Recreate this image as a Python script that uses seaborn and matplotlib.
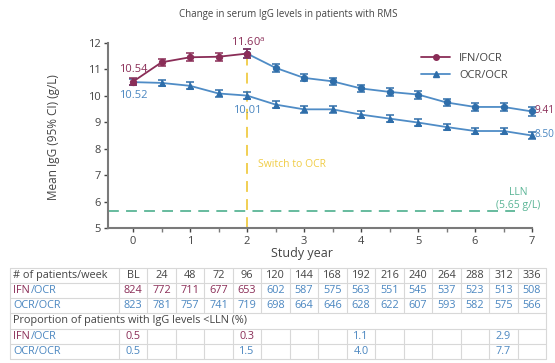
import numpy as np
import pandas as pd
import seaborn as sns
import matplotlib.pyplot as plt
import matplotlib.transforms as mtransforms
from matplotlib.lines import Line2D

# --- data -------------------------------------------------------------
weeks = [0, 24, 48, 72, 96, 120, 144, 168, 192, 216, 240, 264, 288, 312, 336]
ifn_ocr_mean = [10.54, 11.27, 11.46, 11.48, 11.60, 11.06, 10.68, 10.55,
                10.28, 10.15, 10.05, 9.75, 9.58, 9.58, 9.41]
ocr_ocr_mean = [10.52, 10.49, 10.38, 10.09, 10.01, 9.67, 9.49, 9.49,
                9.29, 9.14, 8.99, 8.82, 8.67, 8.67, 8.50]
ifn_ocr_ci = [0.12, 0.14, 0.15, 0.15, 0.16, 0.14, 0.13, 0.14,
              0.14, 0.14, 0.15, 0.15, 0.15, 0.15, 0.16]
ocr_ocr_ci = [0.12, 0.12, 0.13, 0.13, 0.13, 0.12, 0.12, 0.12,
              0.12, 0.13, 0.13, 0.13, 0.13, 0.13, 0.14]
switch_week = 96
lln = 5.65

table_cols = ["BL", "24", "48", "72", "96", "120", "144", "168", "192",
              "216", "240", "264", "288", "312", "336"]
n_ifn_ocr = [824, 772, 711, 677, 653, 602, 587, 575, 563, 551, 545, 537, 523, 513, 508]
n_ocr_ocr = [823, 781, 757, 741, 719, 698, 664, 646, 628, 622, 607, 593, 582, 575, 566]
pct_ifn_ocr = ["0.5", "", "", "", "0.3", "", "", "", "1.1", "", "", "", "", "2.9", ""]
pct_ocr_ocr = ["0.5", "", "", "", "1.5", "", "", "", "4.0", "", "", "", "", "7.7", ""]

# --- style ------------------------------------------------------------
sns.set_theme(style="ticks")
plt.rcParams["font.family"] = ["Open Sans", "DejaVu Sans"]
plt.rcParams["mathtext.fontset"] = "custom"
plt.rcParams["mathtext.rm"] = "Open Sans"

MAROON = "#8a2d57"
BLUE = "#2f6eaa"
BLUE_LINE = "#4f8cc6"
BLUE_TXT = "#4a86c0"
YELLOW = "#f0cc45"
GREEN = "#5bb596"
GREY = "#444444"
SPINE = "#7a7a7a"
GRID = "#d8d8d8"

years = np.array(weeks) / 48.0
df = pd.DataFrame({"year": years, "ifn": ifn_ocr_mean, "ocr": ocr_ocr_mean,
                   "ifn_ci": ifn_ocr_ci, "ocr_ci": ocr_ocr_ci})
pre = df[df["year"] <= switch_week / 48.0]
post = df[df["year"] >= switch_week / 48.0]

fig = plt.figure(figsize=(5.55, 3.63), dpi=100)
W, H = 555, 363
ax = fig.add_axes([108 / W, 1 - 228 / H, (532 - 108) / W, (228 - 43) / H])

# reference lines
ax.axhline(lln, xmin=0.0, xmax=0.96, color=GREEN, lw=1.3, ls=(0, (6, 4)), zorder=1)
ax.plot([2, 2], [5, 11.5], color=YELLOW, lw=1.3, ls=(0, (6, 4)), zorder=1)

# OCR/OCR
sns.lineplot(data=df, x="year", y="ocr", ax=ax, color=BLUE_LINE, lw=1.3,
             marker="^", markersize=5, markerfacecolor=BLUE, markeredgecolor=BLUE,
             zorder=3, clip_on=False, label="OCR/OCR", legend=False)
ax.errorbar(df["year"], df["ocr"], yerr=df["ocr_ci"], fmt="none", ecolor=BLUE,
            elinewidth=1.1, capsize=3, capthick=1.1, zorder=3, clip_on=False)

# IFN/OCR: IFN period then OCR period after the switch
sns.lineplot(data=post, x="year", y="ifn", ax=ax, color=BLUE_LINE, lw=1.3,
             marker="o", markersize=4.5, markerfacecolor=BLUE, markeredgecolor=BLUE,
             zorder=3, clip_on=False, legend=False)
ax.errorbar(post["year"], post["ifn"], yerr=post["ifn_ci"], fmt="none", ecolor=BLUE,
            elinewidth=1.1, capsize=3, capthick=1.1, zorder=3, clip_on=False)
sns.lineplot(data=pre, x="year", y="ifn", ax=ax, color=MAROON, lw=1.3,
             marker="o", markersize=4.5, markerfacecolor=MAROON, markeredgecolor=MAROON,
             zorder=4, clip_on=False, legend=False)
ax.errorbar(pre["year"], pre["ifn"], yerr=pre["ifn_ci"], fmt="none", ecolor=MAROON,
            elinewidth=1.1, capsize=3, capthick=1.1, zorder=4, clip_on=False)

ax.set_xlim(-0.44, 7.0)
ax.set_ylim(5, 12)
ax.set_xticks(range(0, 8))
ax.set_xticks(np.arange(0.5, 7, 1.0), minor=True)
ax.set_yticks(range(5, 13))
ax.tick_params(axis="both", labelsize=8, colors=GREY, length=3, width=1, pad=2)
ax.tick_params(axis="x", which="minor", length=3, width=1, color=SPINE)
ax.tick_params(axis="x", which="major", pad=3)
for s in ["left", "bottom"]:
    ax.spines[s].set_color(SPINE)
    ax.spines[s].set_linewidth(1.5)
sns.despine(ax=ax)
ax.set_xlabel("")
ax.set_ylabel("")

# value labels
ax.text(0.25, ifn_ocr_mean[0] + 0.45, f"{ifn_ocr_mean[0]:.2f}", color=MAROON,
        fontsize=8, ha="right", va="center")
ax.text(0.0, ocr_ocr_mean[0] - 0.5, f"{ocr_ocr_mean[0]:.2f}", color=BLUE_TXT,
        fontsize=8, ha="center", va="center")
ax.text(1.72, ifn_ocr_mean[4] + 0.42, f"{ifn_ocr_mean[4]:.2f}$^{{\\mathrm{{a}}}}$",
        color=MAROON, fontsize=8, ha="left", va="center")
ax.text(2.0, ocr_ocr_mean[4] - 0.55, f"{ocr_ocr_mean[4]:.2f}", color=BLUE_TXT,
        fontsize=8, ha="center", va="center")
ax.text(7.05, ifn_ocr_mean[-1] + 0.02, f"{ifn_ocr_mean[-1]:.2f}", color=MAROON,
        fontsize=7.3, ha="left", va="center", clip_on=False)
ax.text(7.05, ocr_ocr_mean[-1] + 0.02, f"{ocr_ocr_mean[-1]:.2f}", color=BLUE_TXT,
        fontsize=7.3, ha="left", va="center", clip_on=False)
ax.text(2.2, 7.4, "Switch to OCR", color=YELLOW, fontsize=7.5, ha="left", va="center")
ax.text(6.75, 6.1, "LLN\n(5.65 g/L)", color=GREEN, fontsize=7.5, ha="center",
        va="center", linespacing=1.2)

# legend
handles = [Line2D([], [], color=MAROON, lw=1.3, marker="o", markersize=4),
           Line2D([], [], color=BLUE_LINE, lw=1.3, marker="^", markersize=4,
                  markerfacecolor=BLUE, markeredgecolor=BLUE)]
ax.legend(handles, ["IFN/OCR", "OCR/OCR"], loc="upper left",
          bbox_to_anchor=(0.715, 1.0), frameon=False, fontsize=8,
          labelcolor=GREY, handlelength=2.6, handletextpad=0.8, labelspacing=0.55)

# titles
fig.text(288 / W, 1 - 14 / H, "Change in serum IgG levels in patients with RMS",
         fontsize=7, color=GREY, ha="center", va="center")
fig.text(302 / W, 1 - 254 / H, "Study year", fontsize=9, color=GREY,
         ha="center", va="center")
fig.text(53 / W, 1 - 137 / H, "Mean IgG (95% CI) (g/L)", fontsize=8.5, color=GREY,
         ha="center", va="center", rotation=90)

# --- table below the axis -------------------------------------------
tr = mtransforms.blended_transform_factory(ax.transData, fig.transFigure)
row_px = [268, 283, 298, 313, 329, 344, 359]
row_y = [1 - p / H for p in row_px]
x_left_px = 10
x_left = ax.transData.inverted().transform(
    fig.transFigure.transform((x_left_px / W, 0)))[0]
x_right = years[-1] + 0.25
fs = 7.8

def hline(y):
    fig.add_artist(Line2D([x_left, x_right], [y, y], transform=tr, color=GRID, lw=0.8))

def vlines(y0, y1):
    xs = [x_left, years[0] - 0.25] + [x + 0.25 for x in years]
    for xv in xs:
        fig.add_artist(Line2D([xv, xv], [y0, y1], transform=tr, color=GRID, lw=0.8))

for y in row_y:
    hline(y)
vlines(row_y[0], row_y[3])
vlines(row_y[4], row_y[6])
fig.add_artist(Line2D([x_left, x_left], [row_y[3], row_y[4]], transform=tr, color=GRID, lw=0.8))
fig.add_artist(Line2D([x_right, x_right], [row_y[3], row_y[4]], transform=tr, color=GRID, lw=0.8))

def mid(i):
    return (row_y[i] + row_y[i + 1]) / 2

lab_x = 13 / W
slash_x = 31 / W

def ifn_label(i):
    fig.text(lab_x, mid(i), "IFN", color=MAROON, fontsize=fs, va="center", ha="left")
    fig.text(slash_x, mid(i), "/OCR", color=BLUE_TXT, fontsize=fs, va="center", ha="left")

def ocr_label(i):
    fig.text(lab_x, mid(i), "OCR/OCR", color=BLUE_TXT, fontsize=fs, va="center", ha="left")

fig.text(lab_x, mid(0), "# of patients/week", color=GREY, fontsize=fs, va="center")
ifn_label(1)
ocr_label(2)
fig.text(lab_x, mid(3), "Proportion of patients with IgG levels <LLN (%)",
         color=GREY, fontsize=fs, va="center")
ifn_label(4)
ocr_label(5)

for j, x in enumerate(years):
    pre_switch = weeks[j] <= switch_week
    ifn_col = MAROON if pre_switch else BLUE_TXT
    ax.text(x, mid(0), table_cols[j], transform=tr, color=GREY, fontsize=fs,
            ha="center", va="center", clip_on=False)
    ax.text(x, mid(1), str(n_ifn_ocr[j]), transform=tr, color=ifn_col, fontsize=fs,
            ha="center", va="center", clip_on=False)
    ax.text(x, mid(2), str(n_ocr_ocr[j]), transform=tr, color=BLUE_TXT, fontsize=fs,
            ha="center", va="center", clip_on=False)
    if pct_ifn_ocr[j]:
        ax.text(x, mid(4), pct_ifn_ocr[j], transform=tr, color=ifn_col, fontsize=fs,
                ha="center", va="center", clip_on=False)
    if pct_ocr_ocr[j]:
        ax.text(x, mid(5), pct_ocr_ocr[j], transform=tr, color=BLUE_TXT, fontsize=fs,
                ha="center", va="center", clip_on=False)

fig.savefig("out.png", dpi=100)
